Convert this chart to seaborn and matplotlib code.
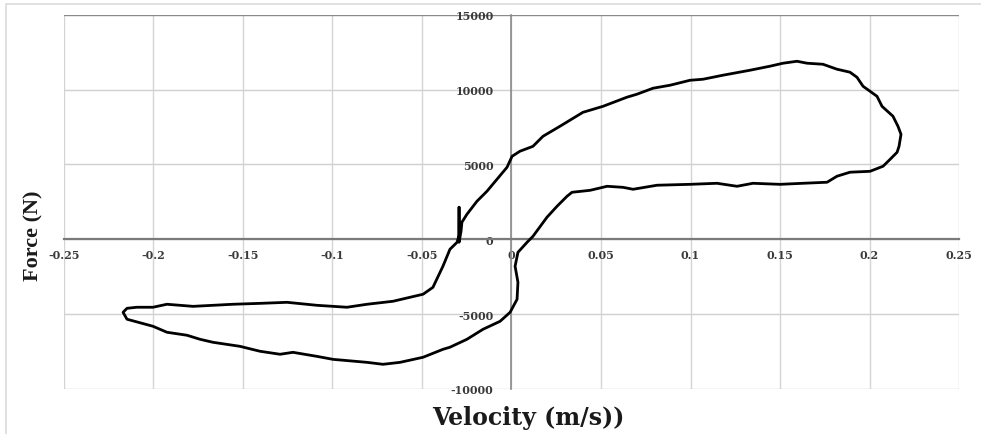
import numpy as np
import pandas as pd
import matplotlib
matplotlib.use("Agg")
import matplotlib.pyplot as plt
from matplotlib.patches import Rectangle
import seaborn as sns

# Damper hysteresis loop: velocity (m/s) vs force (N), in recording order
velocity = [
    -0.0293, -0.0293, -0.0282, -0.0277, -0.0249, -0.0193, -0.0137, -0.0081,
    -0.0025, 0.0003, 0.0047, 0.0120, 0.0176, 0.0271, 0.0399, 0.0511,
    0.0645, 0.0701, 0.0791, 0.0886, 0.0997, 0.1070, 0.1182, 0.1332,
    0.1444, 0.1517, 0.1595, 0.1651, 0.1740, 0.1818, 0.1891, 0.1930,
    0.1964, 0.2042, 0.2070, 0.2131, 0.2159, 0.2176, 0.2165, 0.2154,
    0.2115, 0.2076, 0.2003, 0.1891, 0.1818, 0.1763, 0.1628, 0.1500,
    0.1349, 0.1260, 0.1148, 0.0997, 0.0813, 0.0679, 0.0623, 0.0534,
    0.0439, 0.0338, 0.0310, 0.0254, 0.0198, 0.0120, 0.0087, 0.0036,
    0.0020, 0.0036, 0.0031, -0.0008, -0.0064, -0.0159, -0.0249, -0.0344,
    -0.0383, -0.0494, -0.0623, -0.0718, -0.0807, -0.0997, -0.1087, -0.1221,
    -0.1293, -0.1405, -0.1517, -0.1668, -0.1740, -0.1813, -0.1925, -0.2003,
    -0.2148, -0.2170, -0.2148, -0.2093, -0.2003, -0.1925, -0.1779, -0.1556,
    -0.1405, -0.1254, -0.1087, -0.0919, -0.0807, -0.0662, -0.0494, -0.0439,
    -0.0383, -0.0344, -0.0304, -0.0293, -0.0293,
]
force = [
    2140, -200, 530, 1140, 1670, 2540, 3210, 4010,
    4810, 5540, 5880, 6210, 6880, 7550, 8480, 8880,
    9490, 9690, 10090, 10290, 10620, 10690, 10960, 11290,
    11560, 11760, 11890, 11760, 11690, 11360, 11160, 10820,
    10220, 9550, 8880, 8220, 7550, 7010, 6210, 5810,
    5340, 4880, 4540, 4480, 4210, 3810, 3740, 3670,
    3740, 3540, 3740, 3670, 3610, 3340, 3470, 3540,
    3270, 3140, 2870, 2200, 1470, 200, -200, -870,
    -1800, -2870, -4010, -4880, -5480, -6010, -6680, -7210,
    -7350, -7880, -8220, -8350, -8220, -8020, -7820, -7550,
    -7680, -7480, -7150, -6880, -6680, -6410, -6210, -5810,
    -5340, -4880, -4610, -4540, -4540, -4340, -4480, -4340,
    -4280, -4210, -4410, -4540, -4340, -4140, -3670, -3210,
    -1800, -670, -200, 270, 2140,
]

x_ticks = [-0.25, -0.2, -0.15, -0.1, -0.05, 0, 0.05, 0.1, 0.15, 0.2, 0.25]
x_tick_labels = ["-0.25", "-0.2", "-0.15", "-0.1", "-0.05", "0",
                 "0.05", "0.1", "0.15", "0.2", "0.25"]
y_ticks = [-10000, -5000, 0, 5000, 10000, 15000]
y_tick_labels = ["-10000", "-5000", "0", "5000", "10000", "15000"]

df = pd.DataFrame({"Velocity": velocity, "Force": force})

sns.set_style("white")
plt.rcParams["font.family"] = ["DejaVu Serif"]

W, H = 981, 435
fig = plt.figure(figsize=(W / 100, H / 100), dpi=100)
ax = fig.add_axes([64 / W, 1 - 390 / H, (959 - 64) / W, (390 - 15.7) / H])

# light outer frame
fig.patches.append(Rectangle((6 / W, -0.05), 1.1, 1 - 5 / H + 0.05,
                             transform=fig.transFigure, fill=False,
                             edgecolor="#dcdcdc", linewidth=1.2, zorder=0))

ax.set_xlim(-0.25, 0.25)
ax.set_ylim(-10000, 15000)

# grid
for xv in x_ticks:
    ax.axvline(xv, color="#d4d4d4", linewidth=1.0, zorder=0)
for yv in y_ticks:
    c = "#8a8a8a" if yv == 15000 else "#d0d0d0"
    ax.axhline(yv, color=c, linewidth=1.0, zorder=0)

sns.lineplot(data=df, x="Velocity", y="Force", sort=False, estimator=None,
             color="black", linewidth=2.0, ax=ax, zorder=3)

# axes crossing at the origin
for side in ["top", "right"]:
    ax.spines[side].set_visible(False)
ax.spines["left"].set_position(("data", 0))
ax.spines["bottom"].set_position(("data", 0))
ax.spines["left"].set_color("#8a8a8a")
ax.spines["bottom"].set_color("#7a7a7a")
ax.spines["left"].set_linewidth(1.2)
ax.spines["bottom"].set_linewidth(1.6)

ax.set_xticks(x_ticks)
ax.set_xticklabels(x_tick_labels)
ax.set_yticks(y_ticks)
ax.set_yticklabels(y_tick_labels)
ax.tick_params(axis="both", length=0, labelsize=8, labelcolor="#3a3a3a")
ax.tick_params(axis="x", pad=7)
ax.tick_params(axis="y", pad=13)
for lab in ax.get_xticklabels() + ax.get_yticklabels():
    lab.set_fontweight("bold")

ax.set_xlabel("")
ax.set_ylabel("")
fig.text(528 / W, 1 - 418 / H, "Velocity (m/s))", ha="center", va="center",
         fontsize=17, fontweight="bold", family=["DejaVu Serif"], color="#1a1a1a")
fig.text(33 / W, 1 - 236 / H, "Force (N)", ha="center", va="center",
         rotation=90, fontsize=16, fontweight="bold",
         family=["Liberation Serif", "DejaVu Serif"], color="#1a1a1a")

fig.savefig("out.png", dpi=100)
